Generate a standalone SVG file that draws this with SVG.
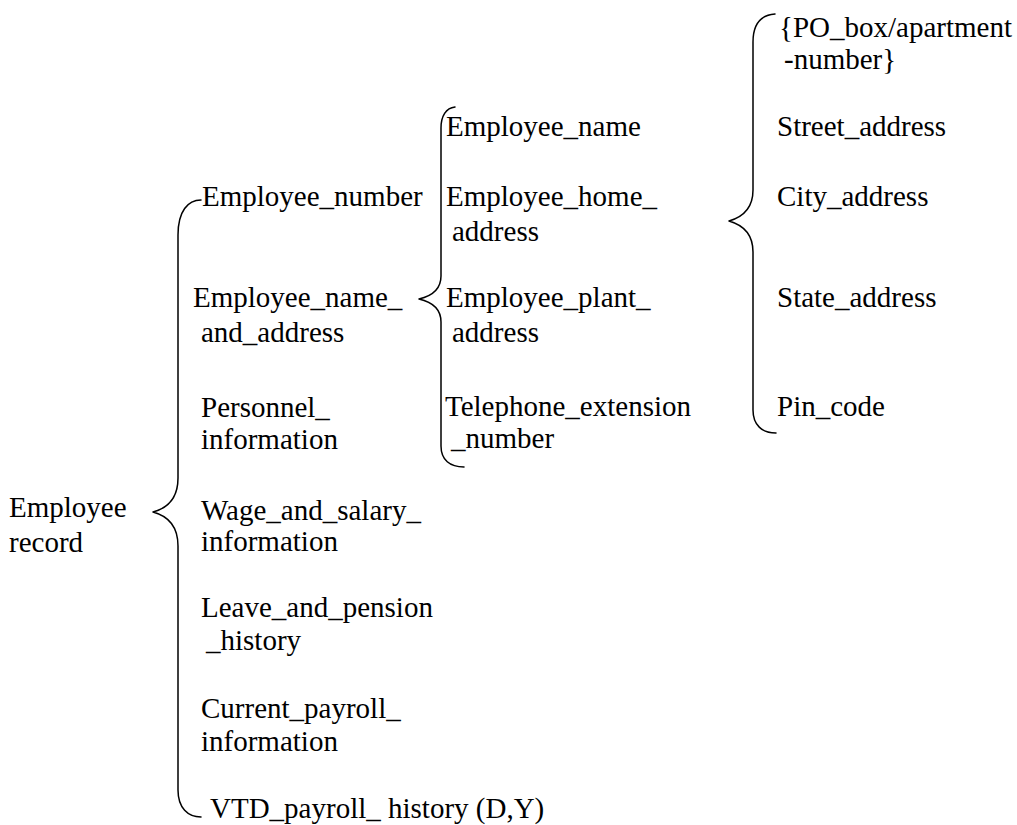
<svg xmlns="http://www.w3.org/2000/svg" width="1017" height="825" viewBox="0 0 1017 825">
  <style>
    text { font-family: "Liberation Serif", "Times New Roman", serif; font-size: 29px; fill: #000; }
    .brace { fill: none; stroke: #000; stroke-width: 1.5; stroke-linecap: round; stroke-linejoin: round; }
  </style>
  <rect width="1017" height="825" fill="#fff"/>

  <!-- curly braces grouping each level of the record -->
  <g id="connectors">
    <!-- Employee record -> fields -->
    <path class="brace" d="M201,200 C188,200 178,211 178,235 L178,478 C178,498 168,508 153,512 C168,516 178,526 178,546 L178,790 C178,808 188,817 201,817"/>
    <!-- Employee_name_and_address -> parts -->
    <path class="brace" d="M455,107 C446,108 441,116 441,128 L441,276 C441,290 432,296 419,299 C432,302 441,308 441,322 L441,446 C441,460 450,467 464,467"/>
    <!-- Employee_home_address -> address lines -->
    <path class="brace" d="M775,14 C761,15 753,24 753,42 L753,190 C753,208 743,217 729,221 C743,225 753,234 753,252 L753,410 C753,425 762,433 776,433"/>
  </g>

  <g id="employee-record">
    <text x="9" y="517">Employee</text>
    <text x="9" y="552">record</text>
  </g>

  <g id="employee-number"><text x="202" y="206">Employee_number</text></g>
  <g id="employee-name-and-address">
    <text x="193" y="307">Employee_name_</text>
    <text x="201" y="342">and_address</text>
  </g>
  <g id="personnel-information">
    <text x="201" y="417">Personnel_</text>
    <text x="201" y="449">information</text>
  </g>
  <g id="wage-and-salary-information">
    <text x="201" y="520">Wage_and_salary_</text>
    <text x="201" y="551">information</text>
  </g>
  <g id="leave-and-pension-history">
    <text x="201" y="617">Leave_and_pension</text>
    <text x="206" y="650">_history</text>
  </g>
  <g id="current-payroll-information">
    <text x="201" y="718">Current_payroll_</text>
    <text x="201" y="751">information</text>
  </g>
  <g id="vtd-payroll-history"><text x="210" y="818">VTD_payroll_ history (D,Y)</text></g>

  <g id="employee-name"><text x="446" y="136">Employee_name</text></g>
  <g id="employee-home-address">
    <text x="446" y="206">Employee_home_</text>
    <text x="452" y="241">address</text>
  </g>
  <g id="employee-plant-address">
    <text x="446" y="307">Employee_plant_</text>
    <text x="452" y="342">address</text>
  </g>
  <g id="telephone-extension-number">
    <text x="445" y="416">Telephone_extension</text>
    <text x="451" y="448">_number</text>
  </g>

  <g id="po-box-apartment-number">
    <text x="779" y="37">{PO_box/apartment</text>
    <text x="784" y="69">-number}</text>
  </g>
  <g id="street-address"><text x="777" y="136">Street_address</text></g>
  <g id="city-address"><text x="777" y="206">City_address</text></g>
  <g id="state-address"><text x="777" y="307">State_address</text></g>
  <g id="pin-code"><text x="777" y="416">Pin_code</text></g>
</svg>
